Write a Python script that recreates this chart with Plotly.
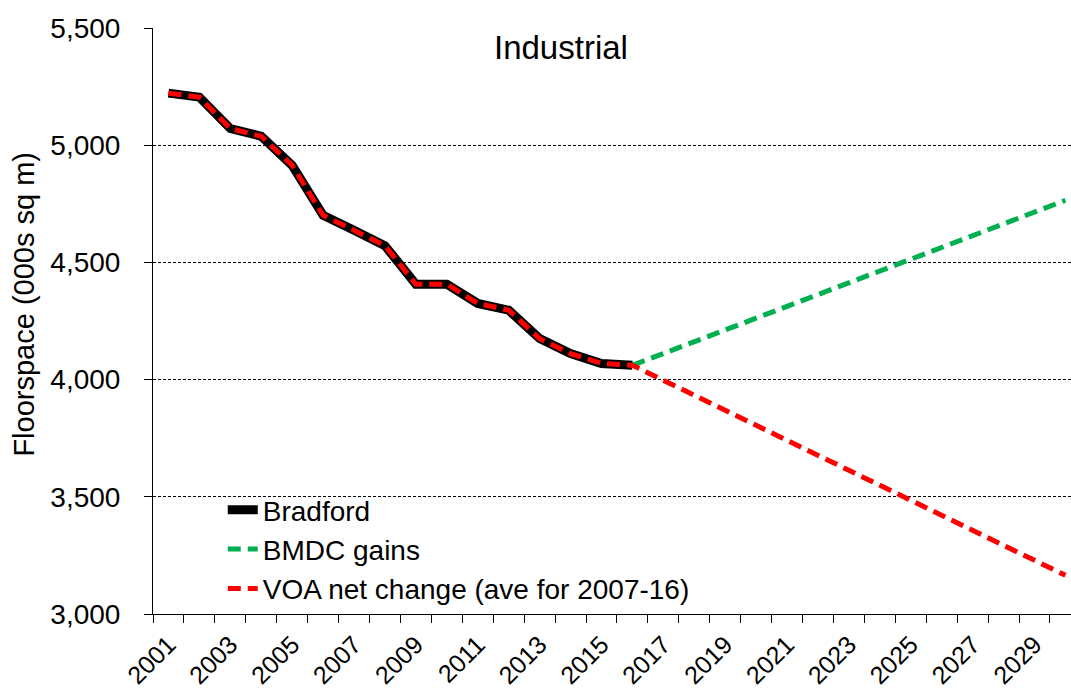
import plotly.graph_objects as go

years_hist = [2001, 2002, 2003, 2004, 2005, 2006, 2007, 2008, 2009, 2010, 2011, 2012, 2013, 2014, 2015, 2016]
bradford = [5222, 5205, 5071, 5038, 4914, 4701, 4637, 4571, 4407, 4407, 4325, 4296, 4175, 4111, 4069, 4061]

years_proj = [2016, 2017, 2018, 2019, 2020, 2021, 2022, 2023, 2024, 2025, 2026, 2027, 2028, 2029, 2030]
bmdc_gains = [4061, 4111, 4161, 4212, 4262, 4312, 4363, 4413, 4463, 4514, 4564, 4614, 4665, 4715, 4765]
voa_proj = [4061, 3997, 3933, 3869, 3805, 3741, 3677, 3613, 3549, 3485, 3421, 3357, 3293, 3229, 3165]

voa_years = years_hist + years_proj[1:]
voa_values = bradford + voa_proj[1:]

tick_years = list(range(2001, 2030, 2))
tick_labels = [str(y) for y in tick_years]
y_ticks = [3000, 3500, 4000, 4500, 5000, 5500]

FONT = "Liberation Sans, Arial, sans-serif"

fig = go.Figure()
fig.add_trace(go.Scatter(x=years_hist, y=bradford, mode="lines", name="Bradford",
                         line=dict(color="black", width=9)))
fig.add_trace(go.Scatter(x=years_proj, y=bmdc_gains, mode="lines", name="BMDC gains",
                         line=dict(color="#00B050", width=5, dash="13px,7px")))
fig.add_trace(go.Scatter(x=voa_years, y=voa_values, mode="lines", name="VOA net change (ave for 2007-16)",
                         line=dict(color="#FF0000", width=5, dash="13px,7px")))

fig.add_annotation(text="Industrial", x=0.444, y=5418, xref="paper", yref="y",
                   showarrow=False, font=dict(size=33, color="black", family=FONT))

# y-axis title placed as rotated text
fig.add_annotation(text="Floorspace (000s sq m)", x=-0.1405, y=0.528, xref="paper", yref="paper",
                   textangle=-90, showarrow=False, xanchor="center", yanchor="middle",
                   font=dict(size=29, color="black", family=FONT))

fig.update_layout(
    width=1071, height=693,
    margin=dict(l=153, r=0, t=28, b=79, autoexpand=False),
    plot_bgcolor="white", paper_bgcolor="white",
    font=dict(family=FONT, color="black"),
    showlegend=True,
    legend=dict(x=0.076, y=0.0, xanchor="left", yanchor="bottom",
                bgcolor="rgba(0,0,0,0)", font=dict(size=28, family=FONT),
                tracegroupgap=0),
    xaxis=dict(range=[2000.5, 2030.18], tickmode="array", tickvals=tick_years, ticktext=tick_labels,
               tickangle=-45, ticks="", showgrid=False, showline=True, linecolor="black", linewidth=1,
               tickfont=dict(size=25, family=FONT), zeroline=False, ticklabelstandoff=5,
               automargin=False,
               minor=dict(tickmode="array", tickvals=[y + 0.5 for y in range(2000, 2030)],
                          ticks="outside", ticklen=8, tickcolor="black", showgrid=False)),
    yaxis=dict(range=[3000, 5500], tickmode="array", tickvals=y_ticks, tickformat=",",
               ticks="outside", ticklen=8, tickcolor="black", showline=True, linecolor="black",
               linewidth=1, showgrid=True, gridcolor="black", gridwidth=1, griddash="3px,2px",
               tickfont=dict(size=28, family=FONT), zeroline=False, ticklabelstandoff=18,
               automargin=False),
)

fig.write_html("out.html")
